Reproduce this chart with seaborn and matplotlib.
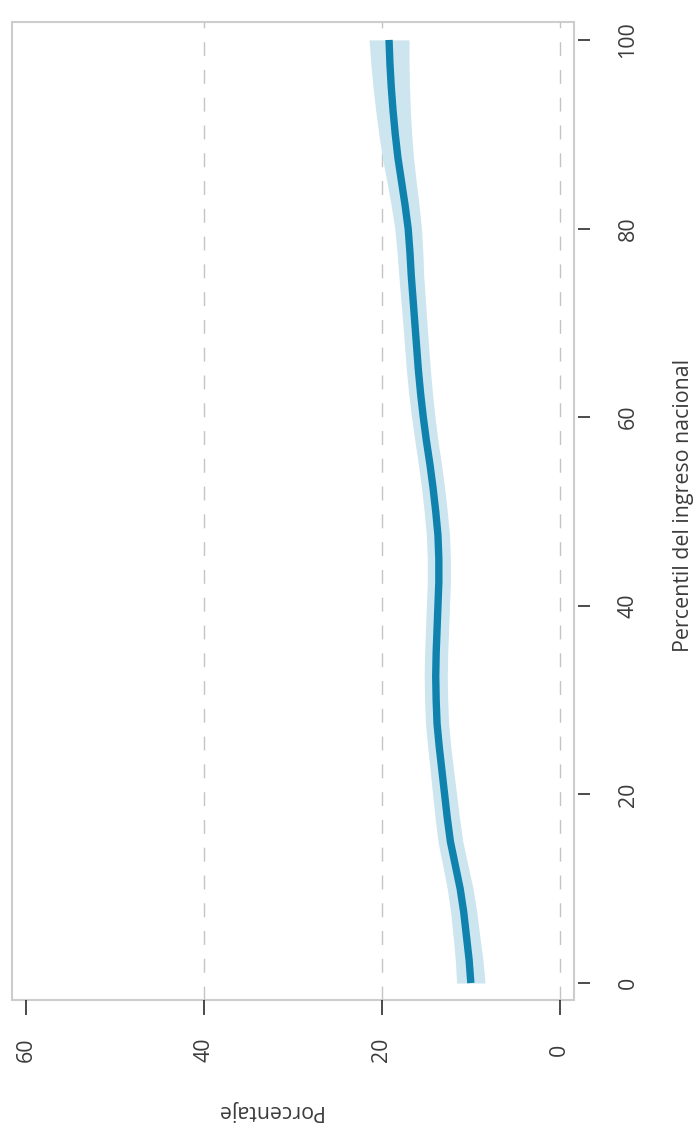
import matplotlib
matplotlib.use("Agg")
import matplotlib.pyplot as plt
import numpy as np
import pandas as pd
import seaborn as sns

# Smoothed share (%) by national income percentile, with its confidence band
percentil = [0, 2.5, 5, 7.5, 10, 12.5, 15, 17.5, 20, 22.5, 25, 27.5, 30,
             32.5, 35, 37.5, 40, 42.5, 45, 47.5, 50, 52.5, 55, 57.5, 60,
             62.5, 65, 67.5, 70, 72.5, 75, 77.5, 80, 82.5, 85, 87.5, 90,
             92.5, 95, 97.5, 100]
porcentaje = [10.0, 10.2, 10.5, 10.8, 11.2, 11.75, 12.3, 12.65, 12.95, 13.25,
              13.55, 13.8, 13.9, 13.95, 13.9, 13.8, 13.7, 13.6, 13.6, 13.7,
              13.95, 14.25, 14.6, 15.0, 15.35, 15.65, 15.9, 16.1, 16.3, 16.5,
              16.7, 16.85, 17.05, 17.4, 17.8, 18.2, 18.5, 18.75, 18.95, 19.1,
              19.2]
semiancho = [1.6, 1.55, 1.5, 1.47, 1.45, 1.42, 1.4, 1.37, 1.35, 1.32, 1.3,
             1.3, 1.3, 1.3, 1.3, 1.3, 1.3, 1.3, 1.3, 1.3, 1.3, 1.3, 1.3, 1.3,
             1.32, 1.34, 1.35, 1.35, 1.36, 1.38, 1.4, 1.45, 1.5, 1.57, 1.65,
             1.75, 1.85, 1.95, 2.05, 2.15, 2.25]

ticks_pct = [0, 20, 40, 60]
ticks_percentil = [0, 20, 40, 60, 80, 100]
grid_pct = [0, 20, 40]

df = pd.DataFrame({"percentil": percentil, "porcentaje": porcentaje,
                   "semiancho": semiancho})
df["inf"] = df["porcentaje"] - df["semiancho"]
df["sup"] = df["porcentaje"] + df["semiancho"]

sns.set_theme(style="white")
plt.rcParams["font.family"] = ["Open Sans", "DejaVu Sans"]
plt.rcParams["lines.scale_dashes"] = False

txt = "#3c3c3c"
fig = plt.figure(figsize=(6.97, 11.38), dpi=100)
W, H = 697, 1138
x0, x1, y0, y1 = 12, 574, 22, 1000
ax = fig.add_axes([x0 / W, 1 - y1 / H, (x1 - x0) / W, (y1 - y0) / H])

# Frame drawn by the background patch; spines only carry the ticks
ax.patch.set_facecolor("white")
ax.patch.set_edgecolor("#cdcdcd")
ax.patch.set_linewidth(1.5)
for s in ax.spines.values():
    s.set_visible(False)
ax.spines["right"].set_position(("outward", 2.9))

for g in grid_pct:
    ax.axvline(g, color="#c4c4c4", lw=1.0, ls=(0, (10, 10)), zorder=1)

ax.fill_betweenx(df["percentil"], df["inf"], df["sup"],
                 color="#cde5ef", lw=0, zorder=2)
sns.lineplot(data=df, x="porcentaje", y="percentil", orient="y",
             color="#0f83ad", lw=5.3, errorbar=None, ax=ax, zorder=3,
             solid_capstyle="butt", solid_joinstyle="round")

ax.set_xlim(61.6, -1.6)
ax.set_ylim(-1.8, 101.9)

ax.yaxis.tick_right()
ax.set_xticks(ticks_pct)
ax.set_yticks(ticks_percentil)
ax.set_xticklabels([str(t) for t in ticks_pct])
ax.set_yticklabels([str(t) for t in ticks_percentil])
ax.tick_params(axis="x", bottom=True, length=10.8, width=1.1, color="#1a1a1a",
               pad=25.2, labelsize=15.4, labelcolor=txt)
ax.tick_params(axis="y", right=True, left=False, length=8.6, width=1.1,
               color="#1a1a1a", pad=27.4, labelsize=15.4, labelcolor=txt)
for lab in ax.get_xticklabels():
    lab.set_rotation(90)
    lab.set_ha("center")
    lab.set_va("center")
for lab in ax.get_yticklabels():
    lab.set_rotation(90)
    lab.set_ha("center")
    lab.set_va("center")

ax.set_xlabel("Porcentaje", fontsize=15.4, color=txt, rotation=180,
              ha="center", va="center")
ax.xaxis.set_label_coords((268 - x0) / (x1 - x0), (y1 - 1110) / (y1 - y0))
ax.yaxis.set_label_position("right")
ax.set_ylabel("Percentil del ingreso nacional", fontsize=15.4, color=txt,
              rotation=90, ha="center", va="center")
ax.yaxis.set_label_coords((683 - x0) / (x1 - x0), (y1 - 505) / (y1 - y0))

fig.savefig("out.png", dpi=100)
